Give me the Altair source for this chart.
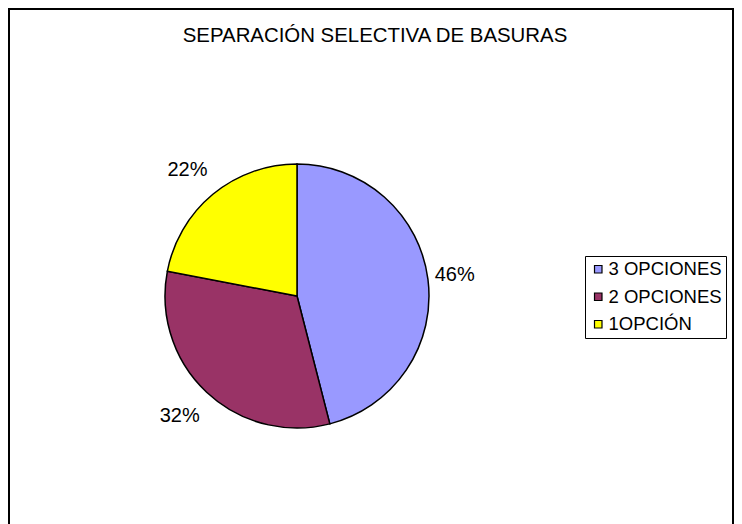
import altair as alt
import pandas as pd

title_text = "SEPARACIÓN SELECTIVA DE BASURAS"
categories = ["3 OPCIONES", "2 OPCIONES", "1OPCIÓN"]
values = [46, 32, 22]
labels = ["46%", "32%", "22%"]
colors = ["#9999FF", "#993366", "#FFFF00"]
order = [1, 2, 3]

df = pd.DataFrame({"category": categories, "value": values, "label": labels, "order": order})
tdf = pd.DataFrame({"t": [title_text]})
bdf = pd.DataFrame({"b": [1]})

FONT = "Liberation Sans"
CX, CY = 289, 288

base = alt.Chart(df)

pie = base.mark_arc(radius=132, stroke="black", strokeWidth=1.5).encode(
    theta=alt.Theta("value:Q", stack=True),
    color=alt.Color(
        "category:N",
        scale=alt.Scale(domain=categories, range=colors),
        legend=alt.Legend(
            title=None,
            orient="none",
            legendX=577,
            legendY=248,
            strokeColor="black",
            fillColor="white",
            padding=4,
            symbolType="square",
            symbolSize=56,
            symbolStrokeColor="black",
            symbolStrokeWidth=1.2,
            labelFont=FONT,
            labelFontSize=18.5,
            labelColor="black",
            labelOffset=1,
            rowPadding=8.5,
        ),
    ),
    order=alt.Order("order:Q"),
    x=alt.value(CX),
    y=alt.value(CY),
)

text = base.mark_text(radius=164, font=FONT, fontSize=20, color="black").encode(
    theta=alt.Theta("value:Q", stack=True),
    text="label:N",
    order=alt.Order("order:Q"),
    x=alt.value(284),
    y=alt.value(288),
)

title = alt.Chart(tdf).mark_text(font=FONT, fontSize=20.4, color="black", baseline="middle").encode(
    text="t:N",
    x=alt.value(367),
    y=alt.value(27.5),
)

border = alt.Chart(bdf).mark_rect(filled=False, stroke="black", strokeWidth=2).encode(
    x=alt.value(1),
    x2=alt.value(725),
    y=alt.value(1),
    y2=alt.value(600),
)

chart = alt.layer(border, pie, text, title).properties(
    width=726,
    height=516,
    autosize=alt.AutoSizeParams(type="none"),
    padding=0,
).configure_view(stroke=None)

chart.save("out.html", embed_options={"renderer": "svg", "actions": False})
